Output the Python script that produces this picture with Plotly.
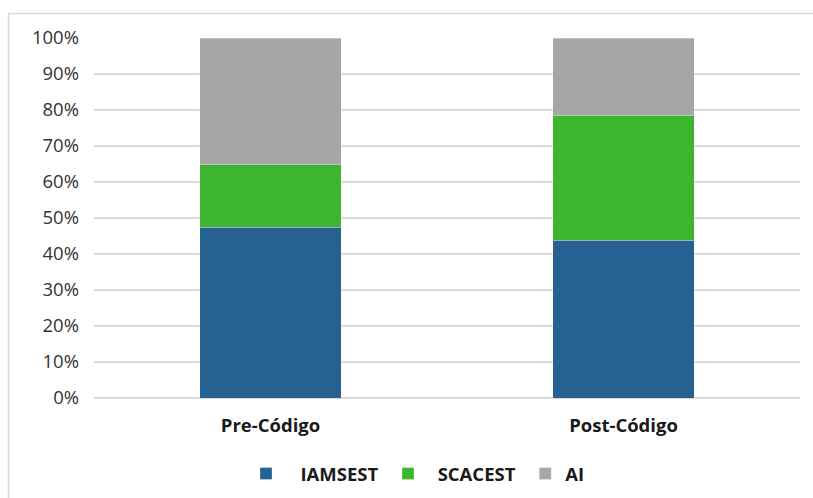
import plotly.graph_objects as go

# Share of each group before and after the code, in percent
categories = ["Pre-Código", "Post-Código"]
iamsest = [47.4, 43.8]
scacest = [17.4, 34.7]
ai = [35.2, 21.5]

series = [
    ("\u00a0\u00a0\u00a0IAMSEST\u00a0", iamsest, "#276192"),
    ("\u00a0\u00a0SCACEST\u00a0", scacest, "#3db52f"),
    ("AI", ai, "#a6a6a6"),
]

fig = go.Figure()
for name, vals, color in series:
    fig.add_trace(go.Bar(
        x=categories, y=vals, name=name,
        marker=dict(color=color, line=dict(color="rgba(255,255,255,0.5)", width=0.6)),
        width=0.4,
    ))

W, H = 813, 498
L, R, T, B = 94, 13, 38, 100
pw, ph = W - L - R, H - T - B

def px_x(p):
    return (p - L) / pw

def px_y(p):
    return (H - B - p) / ph

fig.update_layout(
    width=W, height=H,
    margin=dict(l=L, r=R, t=T, b=B, autoexpand=False),
    barmode="stack",
    bargap=0.6,
    paper_bgcolor="white",
    plot_bgcolor="white",
    font=dict(family="Open Sans", color="#262626"),
    showlegend=True,
    legend=dict(
        orientation="h", x=px_x(246), xanchor="left",
        y=px_y(474), yanchor="middle",
        font=dict(size=18.5, weight="bold", color="#1a1a1a"),
        itemwidth=30, traceorder="normal",
    ),
    xaxis=dict(
        showgrid=False, showline=False, ticks="",
        tickfont=dict(size=18.5, weight="bold", color="#1a1a1a"),
        range=[-0.5, 1.5],
        ticklabelstandoff=14,
    ),
    yaxis=dict(
        range=[0, 100], dtick=10, ticksuffix="%",
        showgrid=True, gridcolor="#d9d9d9", gridwidth=1.5,
        zeroline=True, zerolinecolor="#d9d9d9", zerolinewidth=1.5,
        tickfont=dict(size=18.5, color="#333333"),
        ticklabelstandoff=14,
    ),
    shapes=[
        dict(type="line", xref="paper", yref="paper",
             x0=px_x(8), x1=px_x(813), y0=px_y(13.5), y1=px_y(13.5),
             line=dict(color="#d9d9d9", width=1.5)),
        dict(type="line", xref="paper", yref="paper",
             x0=px_x(8.5), x1=px_x(8.5), y0=px_y(13), y1=px_y(498),
             line=dict(color="#d9d9d9", width=1.5)),
    ],
)

fig.write_html("out.html")
